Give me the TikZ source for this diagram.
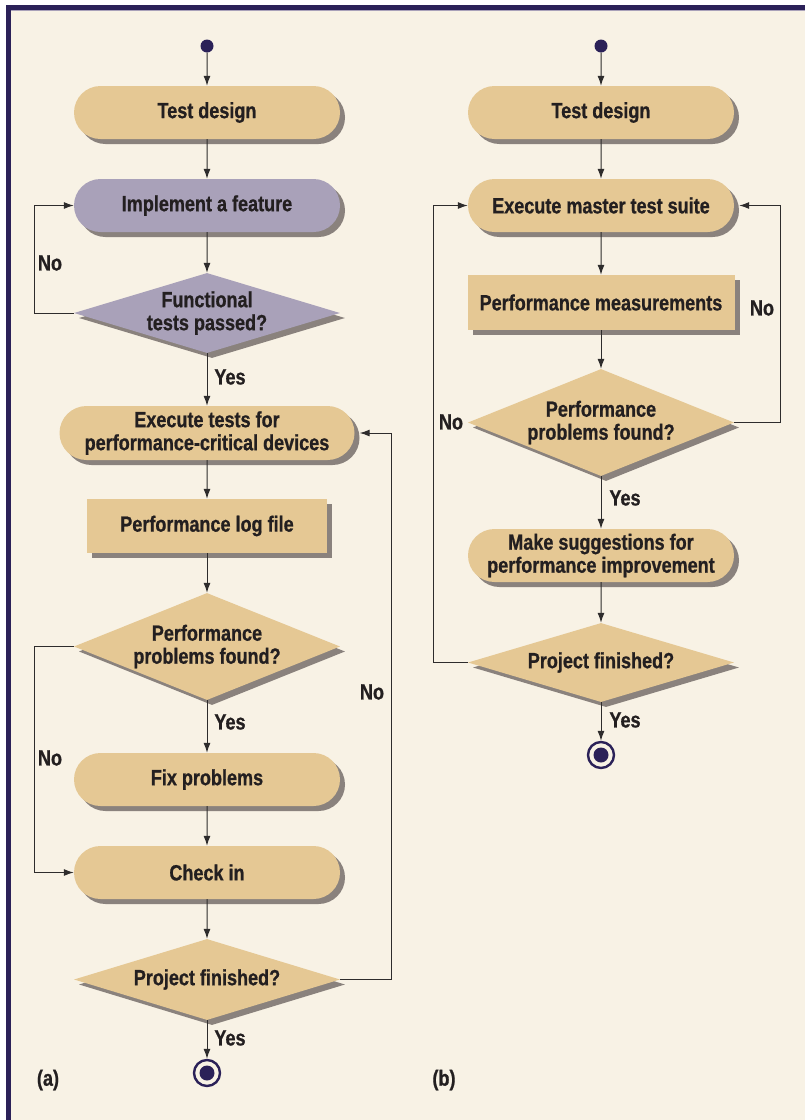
\documentclass[tikz,border=0pt]{standalone}
\usepackage{fontspec}
\setmainfont{Liberation Sans}[FakeStretch=0.82,FakeBold=0.8]
\usetikzlibrary{shapes.geometric,shapes.misc,shadows,arrows.meta}
\definecolor{cream}{HTML}{F8F2E5}
\definecolor{tan}{HTML}{E5C894}
\definecolor{lav}{HTML}{A9A1B9}
\definecolor{shad}{HTML}{8A827D}
\definecolor{navy}{HTML}{2B2158}
\definecolor{ink}{HTML}{231F20}
\definecolor{wire}{HTML}{2E2C2C}
\tikzset{
  x=1pt, y=-1pt,
  every node/.style={font=\fontsize{22}{23}\selectfont\bfseries, text=ink, align=center},
  shd/.style={general shadow={shadow xshift=5pt, shadow yshift=-5pt, fill=shad}},
  pill/.style={rounded rectangle, fill=tan, minimum width=266pt, minimum height=53pt, inner sep=0pt, shd},
  box/.style={rectangle, fill=tan, minimum height=54pt, inner sep=0pt, shd},
  dec/.style={diamond, fill=tan, aspect=3.3, minimum width=266pt, inner xsep=0pt, inner ysep=-12pt, shd},
  startdot/.style={circle, fill=navy, minimum size=13pt, inner sep=0pt},
  enddot/.style={circle, draw=navy, line width=2.4pt, fill=cream, minimum size=26pt, inner sep=0pt,
     path picture={\fill[navy] (path picture bounding box.center) circle (7.5pt);}},
  arr/.style={draw=wire, line width=1pt, -{Latex[length=10pt,width=7pt]}},
  lbl/.style={inner sep=0pt}
}
\begin{document}
\begin{tikzpicture}
\useasboundingbox (0,0) rectangle (805,1120);
\fill[white] (0,0) rectangle (805,1120);
\fill[cream] (11,10) rectangle (805,1120);
\fill[navy] (6,5) rectangle (805,10);
\fill[navy] (6,5) rectangle (11,1120);
\draw[lav, line width=0.8pt] (11,10.5) -- (805,10.5);

% ---------- (a) ----------
\node[startdot] (sA) at (207,46) {};
\node[pill] (tdA) at (207,112.5) {Test design};
\node[pill, fill=lav] (imA) at (207,205.5) {Implement a feature};
\node[dec, fill=lav, minimum height=80pt] (fnA) at (207,313) {Functional\\tests passed?};
\node[pill, minimum width=295pt, minimum height=54pt] (exA) at (207,433) {Execute tests for\\performance-critical devices};
\node[box, minimum width=240pt] (lgA) at (207,526) {Performance log file};
\node[dec, minimum height=107pt] (pfA) at (207,646.5) {Performance\\problems found?};
\node[pill] (fxA) at (207,779.5) {Fix problems};
\node[pill] (ciA) at (207,872.5) {Check in};
\node[dec, minimum height=81pt] (pjA) at (207,979.5) {Project finished?};
\node[enddot] (eA) at (207,1073) {};

\draw[arr] (sA) -- (tdA);
\draw[arr] (tdA) -- (imA);
\draw[arr] (imA) -- (fnA);
\draw[arr] (fnA) -- (exA);
\draw[arr] (exA) -- (lgA);
\draw[arr] (lgA) -- (pfA);
\draw[arr] (pfA) -- (fxA);
\draw[arr] (fxA) -- (ciA);
\draw[arr] (ciA) -- (pjA);
\draw[arr] (pjA) -- (eA);
\draw[arr] (fnA.west) -- (34,313) |- (imA.west);
\draw[arr] (pfA.west) -- (34,646.5) |- (ciA.west);
\draw[arr] (pjA.east) -- (391,979.5) |- ([xshift=5pt]exA.east);

\node[lbl] (nA1) at (50,263) {No};
\node[lbl] (yA1) at (230,377) {Yes};
\node[lbl] (nA2) at (50,758) {No};
\node[lbl] (yA2) at (230,722) {Yes};
\node[lbl] (nA3) at (372,692) {No};
\node[lbl] (yA3) at (230,1038) {Yes};
\node[lbl] (la) at (48,1080) {(a)};

% ---------- (b) ----------
\node[startdot] (sB) at (601,46) {};
\node[pill] (tdB) at (601,112.5) {Test design};
\node[pill] (exB) at (601,205.5) {Execute master test suite};
\node[box, minimum width=267pt, minimum height=55pt] (msB) at (601,302.5) {Performance measurements};
\node[dec, minimum height=107pt] (pfB) at (601,422.5) {Performance\\problems found?};
\node[pill] (sgB) at (601,555.5) {Make suggestions for\\performance improvement};
\node[dec, minimum height=79pt] (pjB) at (601,662.5) {Project finished?};
\node[enddot] (eB) at (601,755) {};

\draw[arr] (sB) -- (tdB);
\draw[arr] (tdB) -- (exB);
\draw[arr] (exB) -- (msB);
\draw[arr] (msB) -- (pfB);
\draw[arr] (pfB) -- (sgB);
\draw[arr] (sgB) -- (pjB);
\draw[arr] (pjB) -- (eB);
\draw[arr] (pfB.east) -- (780,422.5) |- ([xshift=5pt]exB.east);
\draw[arr] (pjB.west) -- (433,662.5) |- (exB.west);

\node[lbl] (nB1) at (762,308) {No};
\node[lbl] (nB2) at (451,422) {No};
\node[lbl] (yB1) at (625,498) {Yes};
\node[lbl] (yB2) at (625,720) {Yes};
\node[lbl] (lb) at (444,1080) {(b)};
\end{tikzpicture}
\end{document}
